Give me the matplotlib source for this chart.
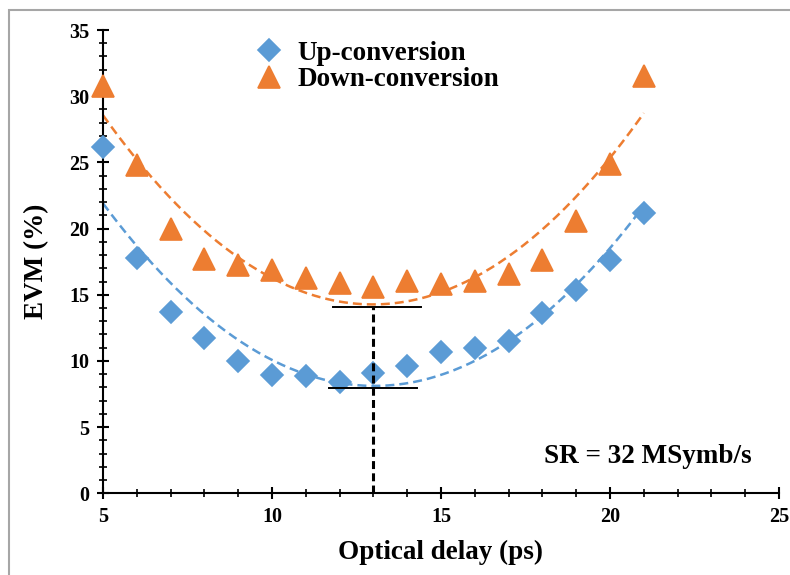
import numpy as np
import matplotlib
matplotlib.use("Agg")
import matplotlib.pyplot as plt
from matplotlib.patches import Rectangle
from matplotlib.ticker import MultipleLocator

# ---- data ----
delay = [5, 6, 7, 8, 9, 10, 11, 12, 13, 14, 15, 16, 17, 18, 19, 20, 21]
evm_up = [26.15, 17.8, 13.7, 11.75, 10.0, 8.95, 8.85, 8.4, 9.1, 9.6,
          10.65, 11.0, 11.5, 13.65, 15.35, 17.6, 21.2]
evm_down = [30.75, 24.8, 20.0, 17.7, 17.25, 16.85, 16.25, 15.9, 15.6, 16.05,
            15.8, 16.05, 16.55, 17.65, 20.6, 24.9, 31.5]
labels = ["Up-conversion", "Down-conversion"]
opt_delay = 13
bracket_hi = 14.05
bracket_lo = 7.98
bracket_hi_x = [11.8, 14.4]
bracket_lo_x = [11.7, 14.3]
note = "SR = 32 MSymb/s"

c_up = "#5B9BD5"
c_down = "#ED7D31"

plt.rcParams["font.family"] = ["Liberation Serif", "DejaVu Serif"]
plt.rcParams["font.weight"] = "bold"

fig = plt.figure(figsize=(7.9, 5.75), dpi=100)
ax = fig.add_axes([103 / 790, 1 - 493.3 / 575, 676 / 790, 463.3 / 575])

# figure frame
fig.patches.append(Rectangle((8.5 / 790, -0.05), 1.1, 1 - 10 / 575 + 0.05,
                             transform=fig.transFigure, fill=False,
                             edgecolor="#A6A6A6", lw=1.5, zorder=0))

x = np.array(delay, dtype=float)
xs = np.linspace(min(delay), max(delay), 200)
for ys, c in ((evm_up, c_up), (evm_down, c_down)):
    p = np.polyfit(x, np.array(ys), 2)
    ax.plot(xs, np.polyval(p, xs), color=c, lw=1.8, dashes=(3.6, 2.0), zorder=2)

ax.plot(delay, evm_up, "D", color=c_up, ms=11.5, mec=c_up, mew=1.2,
        mfc=c_up, label=labels[0], zorder=3, clip_on=False)
ax.plot(delay, evm_down, "^", color=c_down, ms=16, mec=c_down, mew=1.2,
        mfc=c_down, label=labels[1], zorder=3, clip_on=False)

# optimum marker lines
ax.plot([opt_delay, opt_delay], [0, bracket_hi], color="black", lw=2.2,
        dashes=(2.6, 1.4), zorder=4)
ax.plot(bracket_hi_x, [bracket_hi, bracket_hi], color="black", lw=1.4, zorder=4)
ax.plot(bracket_lo_x, [bracket_lo, bracket_lo], color="black", lw=1.4, zorder=4)

ax.text(0.652, 0.08, note, transform=ax.transAxes, fontsize=19.5,
        fontweight="bold", ha="left", va="center")

ax.set_xlim(5, 25)
ax.set_ylim(0, 35)
ax.xaxis.set_major_locator(MultipleLocator(5))
ax.xaxis.set_minor_locator(MultipleLocator(1))
ax.yaxis.set_major_locator(MultipleLocator(5))
ax.yaxis.set_minor_locator(MultipleLocator(1))
for s in ("top", "right"):
    ax.spines[s].set_visible(False)
for s in ("left", "bottom"):
    ax.spines[s].set_linewidth(1.5)
    ax.spines[s].set_color("black")
ax.tick_params(which="major", direction="inout", length=8, width=1.5,
               labelsize=14.5, pad=6)
ax.tick_params(which="minor", direction="inout", length=6, width=1.2)
for lab in ax.get_xticklabels() + ax.get_yticklabels():
    lab.set_fontweight("bold")

ax.set_xlabel("Optical delay (ps)", fontsize=19.5, fontweight="bold", labelpad=9)
ax.set_ylabel("EVM (%)", fontsize=19.5, fontweight="bold", labelpad=14)

leg = ax.legend(loc="upper left", bbox_to_anchor=(0.205, 1.0), frameon=False,
                fontsize=19.5, handletextpad=0.45, labelspacing=0.05,
                borderaxespad=0.0, handlelength=1.2)

fig.savefig("out.png", dpi=100)
